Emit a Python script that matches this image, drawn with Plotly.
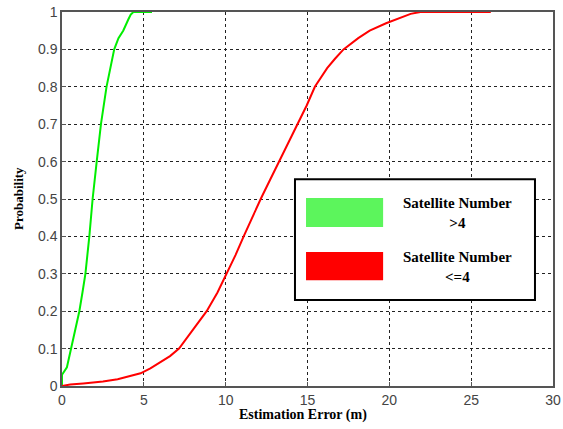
import plotly.graph_objects as go

# Data (CDF of estimation error)
green_x = [0, 0, 0.3, 0.55, 0.8, 1.06, 1.25, 1.43, 1.67, 1.87, 2.12, 2.38, 2.72, 2.95, 3.19, 3.45, 3.74, 4.05, 4.2, 4.36, 5.5]
green_y = [0, 0.03, 0.05, 0.1, 0.15, 0.2, 0.25, 0.3, 0.4, 0.5, 0.6, 0.7, 0.8, 0.85, 0.9, 0.93, 0.95, 0.98, 0.993, 1.0, 1.0]

red_x = [0, 0.5, 1.3, 2.5, 3.4, 4.3, 4.8, 5.4, 6.1, 6.6, 7.15, 8.0, 8.84, 9.5, 10.05, 10.6, 11.1, 11.6,
         12.14, 12.7, 13.27, 13.85, 14.4, 14.95, 15.45, 15.8, 16.2, 16.68, 17.2, 18.1, 18.8, 19.8, 20.45, 21.3, 21.9, 26.2]
red_y = [0, 0.004, 0.007, 0.012, 0.018, 0.027, 0.034, 0.047, 0.065, 0.08, 0.1, 0.15, 0.2, 0.25, 0.3, 0.35, 0.4, 0.45,
         0.5, 0.55, 0.6, 0.65, 0.7, 0.75, 0.8, 0.825, 0.85, 0.875, 0.9, 0.93, 0.95, 0.97, 0.98, 0.995, 1.0, 1.0]

series_label_lines = [["Satellite Number", "&gt;4"], ["Satellite Number", "&lt;=4"]]
series_names = ["Satellite Number >4", "Satellite Number <=4"]
x_ticks = [0, 5, 10, 15, 20, 25, 30]
y_ticks = [0, 0.1, 0.2, 0.3, 0.4, 0.5, 0.6, 0.7, 0.8, 0.9, 1]
y_tick_labels = ["0", "0.1", "0.2", "0.3", "0.4", "0.5", "0.6", "0.7", "0.8", "0.9", "1"]
x_title = "Estimation Error (m)"
y_title = "Probability"

serif = "Liberation Serif, Times New Roman"

fig = go.Figure()
fig.add_trace(go.Scatter(x=green_x, y=green_y, mode="lines", name=series_names[0],
                         line=dict(color="#00ee00", width=2), cliponaxis=False, showlegend=False))
fig.add_trace(go.Scatter(x=red_x, y=red_y, mode="lines", name=series_names[1],
                         line=dict(color="#ff0000", width=2), cliponaxis=False, showlegend=False))

axis_style = dict(showgrid=True, gridcolor="#222222", gridwidth=1, griddash="3px,3px",
                  showline=True, linecolor="#555555", linewidth=1.5, mirror=True,
                  ticks="inside", ticklen=4, tickcolor="#555555", zeroline=False, automargin=False,
                  tickfont=dict(family="Liberation Sans, Arial", size=14, color="#444444"))

fig.update_xaxes(range=[0, 30], tickvals=x_ticks, **axis_style)
fig.update_yaxes(range=[0, 1], tickvals=y_ticks, ticktext=y_tick_labels, **axis_style)

# Legend box drawn manually (large colour swatches as in the reference)
shapes = [
    dict(type="rect", xref="paper", yref="paper", x0=0.4745, x1=0.9633, y0=0.23, y1=0.5527,
         line=dict(color="#000000", width=2), fillcolor="#ffffff", layer="above"),
    dict(type="rect", xref="paper", yref="paper", x0=0.497, x1=0.654, y0=0.425, y1=0.5027,
         line=dict(width=0), fillcolor="#5cf55c", layer="above"),
    dict(type="rect", xref="paper", yref="paper", x0=0.497, x1=0.654, y0=0.283, y1=0.358,
         line=dict(width=0), fillcolor="#ff0000", layer="above"),
]
legend_y = [0.4626, 0.318]
annotations = [
    dict(xref="paper", yref="paper", x=0.806, y=legend_y[i],
         text="<b>" + "<br>".join(series_label_lines[i]) + "</b>",
         showarrow=False, font=dict(family=serif, size=15, color="#000000"),
         xanchor="center", yanchor="middle")
    for i in range(2)
]
# Axis titles as annotations for exact placement
annotations.append(dict(xref="paper", yref="paper", x=0.49, y=0, yshift=-29,
                        text="<b>" + x_title + "</b>", showarrow=False,
                        font=dict(family=serif, size=14, color="#000000"),
                        xanchor="center", yanchor="middle"))
annotations.append(dict(xref="paper", yref="paper", x=0, y=0.5, xshift=-44,
                        text="<b>" + y_title + "</b>", showarrow=False, textangle=-90,
                        font=dict(family=serif, size=13, color="#000000"),
                        xanchor="center", yanchor="middle"))

fig.update_layout(width=563, height=429, margin=dict(l=62, r=10, t=12, b=43),
                  plot_bgcolor="#ffffff", paper_bgcolor="#ffffff",
                  shapes=shapes, annotations=annotations, showlegend=False)

fig.write_html("out.html", config={"displayModeBar": False},
               post_script="document.body.style.margin='0';document.body.style.overflow='hidden';")
